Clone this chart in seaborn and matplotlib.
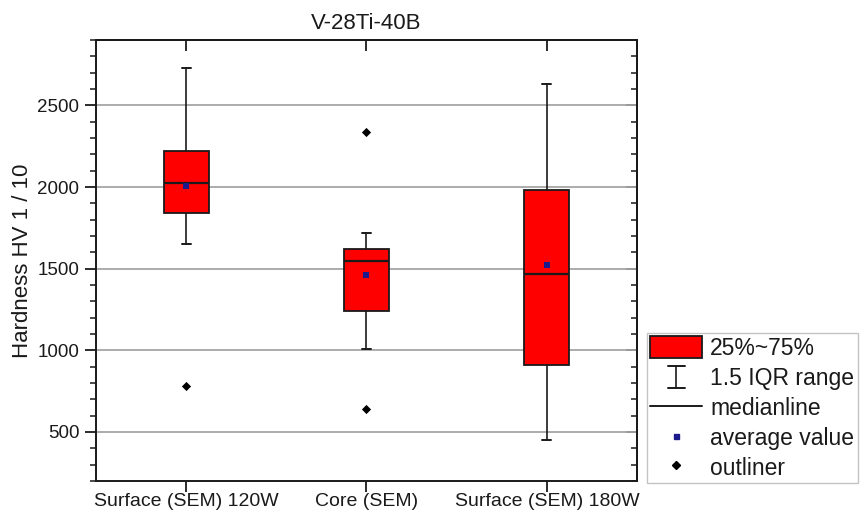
import matplotlib
matplotlib.use("Agg")
import matplotlib.pyplot as plt
import seaborn as sns
import numpy as np
from matplotlib.patches import Patch
from matplotlib.lines import Line2D
from matplotlib.legend_handler import HandlerBase, HandlerLine2D
from matplotlib.ticker import MultipleLocator, FixedLocator

# ---- data ----
categories = ["Surface (SEM) 120W", "Core (SEM)", "Surface (SEM) 180W"]
q1 = [1838, 1240, 913]
median = [2024, 1550, 1466]
q3 = [2222, 1618, 1981]
whisker_low = [1650, 1009, 453]
whisker_high = [2727, 1719, 2629]
mean = [2004, 1462, 1520]
outliers = [[782], [2338, 639], []]
legend_labels = ["25%~75%", "1.5 IQR range", "medianline", "average value", "outliner"]

sns.set_theme(style="white")
plt.rcParams["font.family"] = ["Liberation Sans", "DejaVu Sans"]

W, H = 861, 513
fig = plt.figure(figsize=(W / 100, H / 100), dpi=100)
ax = fig.add_axes([96 / W, 1 - 481 / H, (637 - 96) / W, (481 - 40) / H])

positions = np.arange(len(categories))
stats = [
    dict(label=c, q1=a, med=m, q3=b, whislo=wl, whishi=wh, mean=mn, fliers=[])
    for c, a, m, b, wl, wh, mn in zip(categories, q1, median, q3, whisker_low, whisker_high, mean)
]
red = "#ff0000"
navy = "#1a1a8c"
edge = "#1a1a1a"
ax.bxp(stats, positions=positions, widths=0.25, capwidths=0.05, patch_artist=True,
       showmeans=False, showfliers=False, manage_ticks=False,
       boxprops=dict(facecolor=red, edgecolor=edge, linewidth=1.3),
       medianprops=dict(color=edge, linewidth=1.6),
       whiskerprops=dict(color=edge, linewidth=1.2),
       capprops=dict(color=edge, linewidth=1.4), zorder=3)

# means and outliers via seaborn
sns.scatterplot(x=positions, y=mean, marker="s", color=navy, s=14, linewidth=0, ax=ax, zorder=5)
ox = [p for p, vals in zip(positions, outliers) for _ in vals]
oy = [v for vals in outliers for v in vals]
sns.scatterplot(x=ox, y=oy, marker="D", color="black", s=22, linewidth=0, ax=ax, zorder=5)

ax.set_xlim(-0.5, 2.5)
ax.set_ylim(200, 2900)
ax.set_xticks(positions)
ax.set_xticklabels(categories)
ax.yaxis.set_major_locator(FixedLocator([500, 1000, 1500, 2000, 2500]))
ax.yaxis.set_minor_locator(MultipleLocator(100))
ax.yaxis.grid(True, which="major", color="#a6a6a6", linewidth=1.3)
ax.xaxis.grid(False)
ax.set_axisbelow(True)

for s in ax.spines.values():
    s.set_visible(True)
    s.set_color(edge)
    s.set_linewidth(1.4)

ax.tick_params(axis="y", which="major", direction="out", length=8, width=1.3, color=edge,
               labelsize=13.5, pad=4, left=True)
ax.tick_params(axis="y", which="minor", direction="out", length=4, width=1.1, color=edge, left=True)
ax.tick_params(axis="x", which="major", direction="out", length=8, width=1.3, color=edge,
               labelsize=14, pad=1, bottom=True)
for lbl in ax.get_yticklabels() + ax.get_xticklabels():
    lbl.set_color("#1a1a1a")

# mirrored ticks (inward) on right and top
secy = ax.secondary_yaxis("right")
secy.yaxis.set_major_locator(FixedLocator([500, 1000, 1500, 2000, 2500]))
secy.yaxis.set_minor_locator(MultipleLocator(100))
secy.tick_params(axis="y", which="major", direction="in", length=8, width=1.3, color=edge, labelright=False)
secy.tick_params(axis="y", which="minor", direction="in", length=4, width=1.1, color=edge)
secy.spines["right"].set_color(edge)
secy.spines["right"].set_linewidth(1.4)
secx = ax.secondary_xaxis("top")
secx.set_xticks(positions)
secx.tick_params(axis="x", which="major", direction="in", length=8, width=1.3, color=edge, labeltop=False)
secx.spines["top"].set_color(edge)
secx.spines["top"].set_linewidth(1.4)

ax.set_title("V-28Ti-40B", fontsize=16, pad=8, color="#1a1a1a")
ax.set_ylabel("Hardness HV 1 / 10", fontsize=16, labelpad=3, color="#1a1a1a")


class WhiskerHandler(HandlerBase):
    def create_artists(self, legend, orig_handle, xdescent, ydescent, width, height, fontsize, trans):
        cx = -xdescent + width / 2
        y0 = -ydescent + height * 0.0
        y1 = -ydescent + height * 1.0
        hw = width * 0.16
        arts = [
            Line2D([cx, cx], [y0, y1], color=edge, lw=1.2, transform=trans),
            Line2D([cx - hw, cx + hw], [y0, y0], color=edge, lw=1.4, transform=trans),
            Line2D([cx - hw, cx + hw], [y1, y1], color=edge, lw=1.4, transform=trans),
        ]
        return arts


whisker_proxy = object()
handles = [
    Patch(facecolor=red, edgecolor=edge, linewidth=1.3),
    whisker_proxy,
    Line2D([], [], color=edge, lw=1.4),
    Line2D([], [], marker="s", ls="", color=navy, markersize=3.6),
    Line2D([], [], marker="D", ls="", color="black", markersize=4.5),
]
leg = fig.legend(handles, legend_labels, loc="upper left",
                 bbox_to_anchor=(647 / W, 1 - 333 / H), bbox_transform=fig.transFigure,
                 fontsize=16.5, frameon=True, fancybox=False, borderaxespad=0,
                 borderpad=0.15, handlelength=2.26, handleheight=1.09, handletextpad=0.35,
                 labelspacing=0.27,
                 handler_map={whisker_proxy: WhiskerHandler(),
                              handles[2]: HandlerLine2D(marker_pad=0.4)})
leg.get_frame().set_edgecolor("#b5b5b5")
leg.get_frame().set_linewidth(1.0)
for t in leg.get_texts():
    t.set_color("#1a1a1a")

fig.savefig("out.png", dpi=100)
